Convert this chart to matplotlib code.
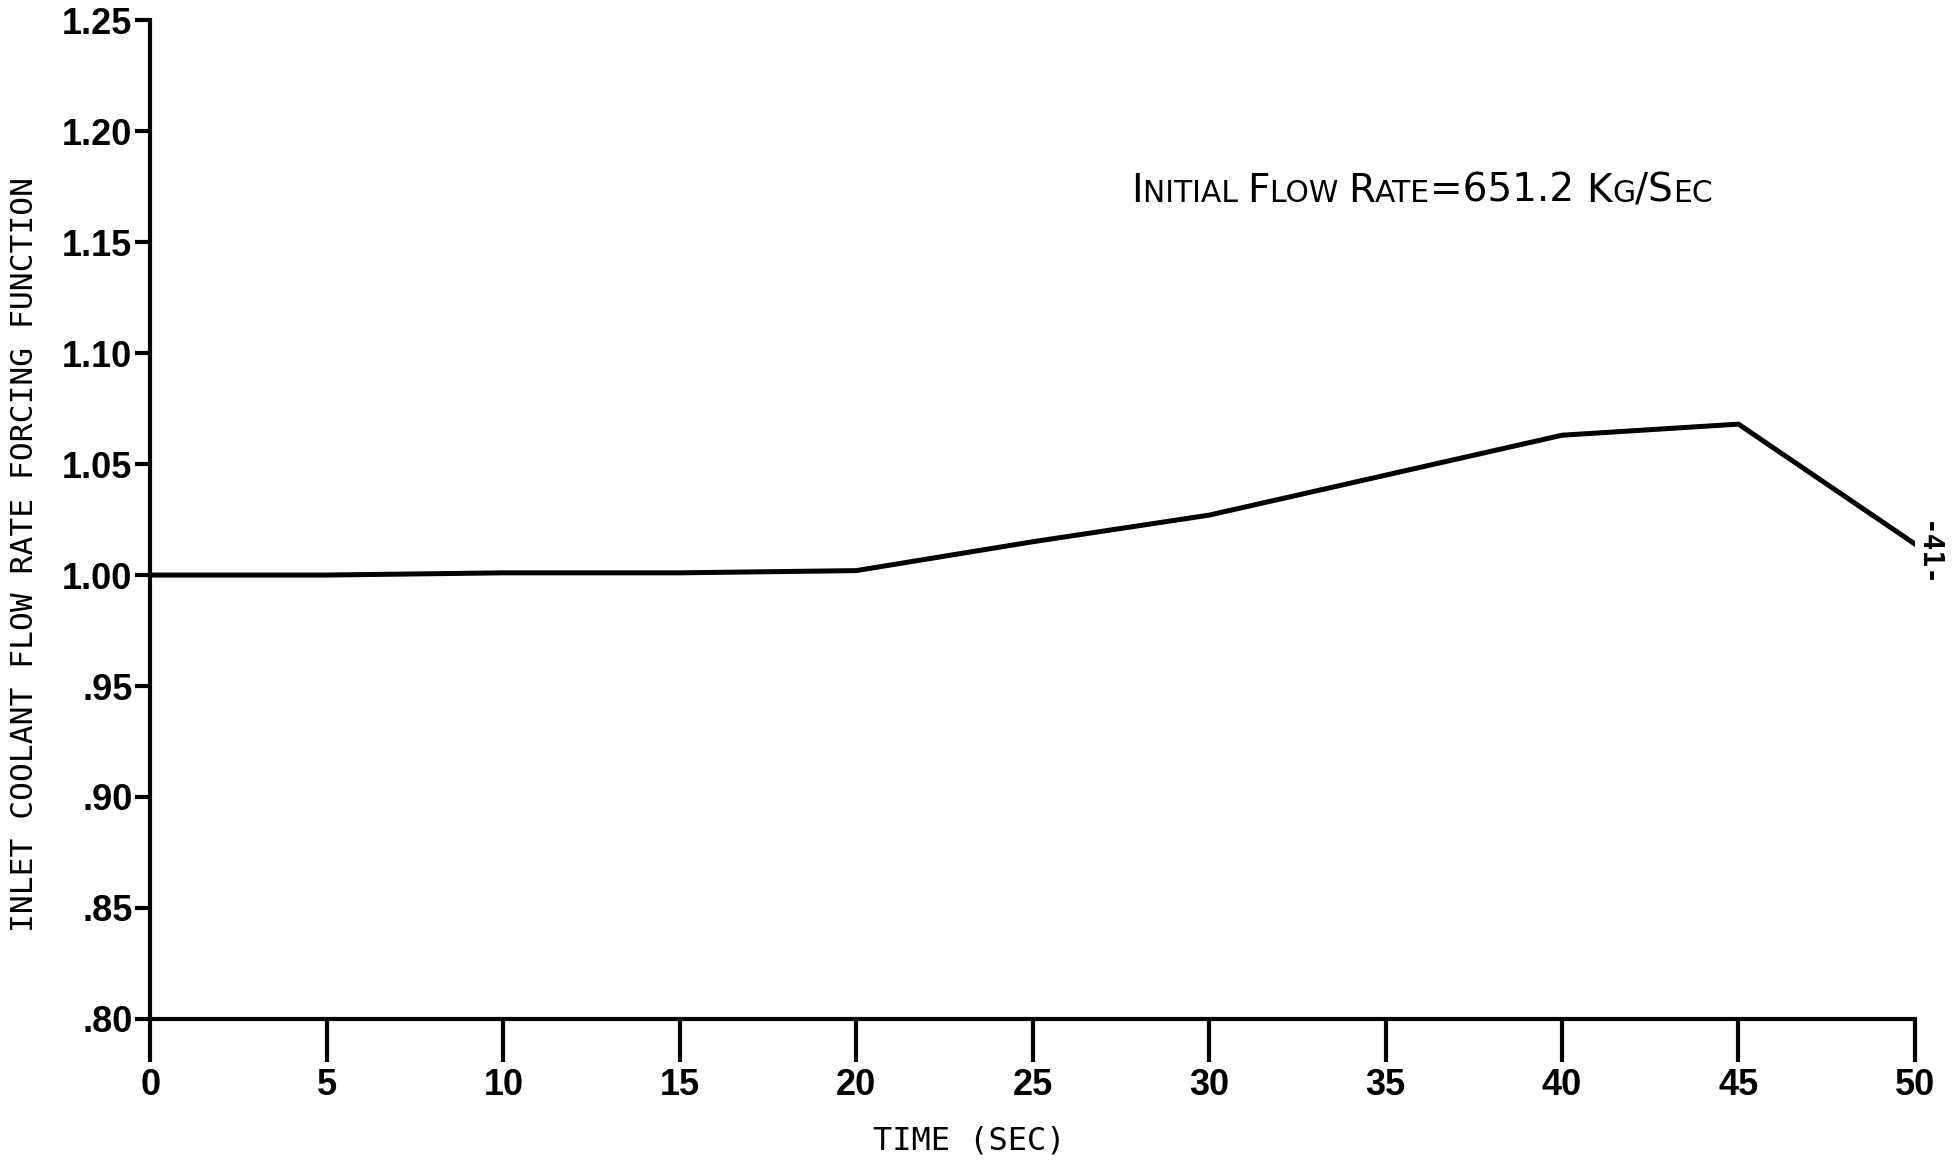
import matplotlib
matplotlib.use("Agg")
import matplotlib.pyplot as plt
from matplotlib.offsetbox import TextArea, HPacker, AnnotationBbox

# forcing function vs time
time_s = [0, 5, 10, 15, 20, 25, 30, 35, 40, 45, 50]
flow_fn = [1.000, 1.000, 1.001, 1.001, 1.002, 1.015, 1.027, 1.045, 1.063, 1.068, 1.014]

xticks = [0, 5, 10, 15, 20, 25, 30, 35, 40, 45, 50]
yticks = [0.80, 0.85, 0.90, 0.95, 1.00, 1.05, 1.10, 1.15, 1.20, 1.25]
ylabels = [".80", ".85", ".90", ".95", "1.00", "1.05", "1.10", "1.15", "1.20", "1.25"]

tick_font = ["Liberation Sans", "DejaVu Sans"]
label_font = ["DejaVu Sans Mono"]

fig = plt.figure(figsize=(19.54, 11.60), dpi=100)
ax = fig.add_axes([0.077, 0.1216, 0.903, 0.861])

ax.plot(time_s, flow_fn, color="black", lw=3.6, solid_joinstyle="miter")

ax.set_xlim(0, 50)
ax.set_ylim(0.80, 1.25)
ax.set_xticks(xticks)
ax.set_xticklabels([str(t) for t in xticks], family=tick_font, weight="bold", fontsize=26)
ax.set_yticks(yticks)
ax.set_yticklabels(ylabels, family=tick_font, weight="bold", fontsize=26)

ax.spines["top"].set_visible(False)
ax.spines["right"].set_visible(False)
for s in ("left", "bottom"):
    ax.spines[s].set_linewidth(3)
ax.tick_params(axis="x", direction="out", length=31, width=3, pad=4)
ax.tick_params(axis="y", direction="out", length=11, width=3, pad=2)

ax.set_ylabel("INLET COOLANT FLOW RATE FORCING FUNCTION", family=label_font,
              fontsize=22.5)
ax.yaxis.set_label_coords(-0.063, 0.465)
ax.annotate("TIME (SEC)", xy=(23.2, 0.80), xytext=(0, -77), textcoords="offset points",
            ha="center", va="top", family=label_font, fontsize=23)

# small-caps style note
big, small = 28, 21.5
parts = [("I", big), ("NITIAL ", small), ("F", big), ("LOW ", small), ("R", big),
         ("ATE", small), ("=651.2 ", big), ("K", big), ("G", small), ("/S", big), ("EC", small)]
areas = [TextArea(t, textprops=dict(fontsize=sz, family=["DejaVu Sans"], color="black"))
         for t, sz in parts]
box = HPacker(children=areas, align="baseline", pad=0, sep=0)
ab = AnnotationBbox(box, (0.556, 0.829), xycoords="axes fraction", frameon=False,
                    box_alignment=(0, 0.5))
ax.add_artist(ab)

fig.text(0.986, 0.522, "-41-", rotation=-90, fontsize=20, family=label_font,
         weight="bold", ha="center", va="center")

fig.savefig("out.png", dpi=100, facecolor="white")
